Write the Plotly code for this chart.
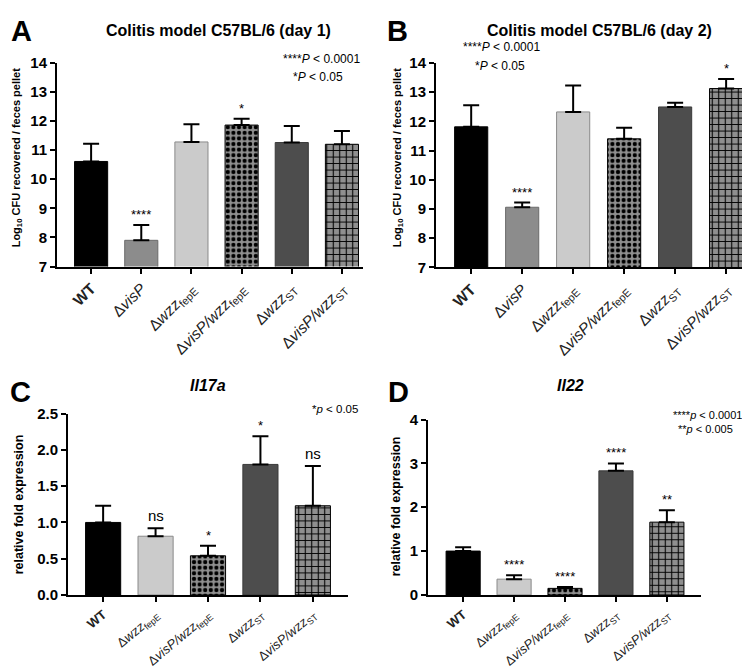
import plotly.graph_objects as go

# ---------------- data ----------------
labels_ab = ["<b>WT</b>", "Δ<i>visP</i>", "Δ<i>wzz</i><sub>fepE</sub>",
             "Δ<i>visP/wzz</i><sub>fepE</sub>", "Δ<i>wzz</i><sub>ST</sub>",
             "Δ<i>visP/wzz</i><sub>ST</sub>"]
labels_cd = ["<b>WT</b>", "Δ<i>wzz</i><sub>fepE</sub>",
             "Δ<i>visP/wzz</i><sub>fepE</sub>", "Δ<i>wzz</i><sub>ST</sub>",
             "Δ<i>visP/wzz</i><sub>ST</sub>"]

day1_mean = [10.61, 7.90, 11.28, 11.86, 11.26, 11.20]
day1_sem = [0.61, 0.53, 0.61, 0.22, 0.57, 0.46]
day1_sig = ["", "****", "", "*", "", ""]

day2_mean = [11.81, 9.06, 12.32, 11.40, 12.49, 13.12]
day2_sem = [0.74, 0.16, 0.90, 0.38, 0.14, 0.33]
day2_sig = ["", "****", "", "", "", "*"]

il17a_mean = [1.00, 0.81, 0.54, 1.80, 1.23]
il17a_sem = [0.23, 0.11, 0.14, 0.39, 0.55]
il17a_sig = ["", "ns", "*", "*", "ns"]

il22_mean = [1.00, 0.36, 0.15, 2.83, 1.66]
il22_sem = [0.09, 0.09, 0.03, 0.17, 0.27]
il22_sig = ["", "****", "****", "****", "**"]

# ---------------- styles ----------------
FONT = "Liberation Sans, Arial, sans-serif"
W, H = 750, 670

sty_ab = dict(
    color=["#000000", "#8c8c8c", "#cbcbcb", "#8f8f8f", "#4d4d4d", "#8f8f8f"],
    line=["#000000", "#6a6a6a", "#8a8a8a", "#000000", "#3a3a3a", "#000000"],
    shape=["", "", "", ".", "", "+"],
    size=[6, 6, 6, 5.6, 6, 6.5],
    solidity=[0.5, 0.5, 0.5, 0.45, 0.5, 0.3],
)
sty_cd = {k: [v[0]] + v[2:] for k, v in sty_ab.items()}


def px_x(p):
    return p / W


def px_y(p):
    return 1 - p / H


fig = go.Figure()

panels = [
    ("1", labels_ab, day1_mean, day1_sem, day1_sig, sty_ab, (49, 355), (256, 47), [7, 14], [-0.68, 5.42], 0.66, 1, None, 15.5, -45),
    ("2", labels_ab, day2_mean, day2_sem, day2_sig, sty_ab, (428, 738), (257, 47), [7, 14], [-0.69, 5.39], 0.65, 1, None, 15.5, -45),
    ("3", labels_cd, il17a_mean, il17a_sem, il17a_sig, sty_cd, (60, 340), (593, 407), [0, 2.5], [-0.67, 4.67], 0.67, 0.5, ".1f", 13, -40),
    ("4", labels_cd, il22_mean, il22_sem, il22_sig, sty_cd, (420, 693), (593, 413), [0, 4], [-0.69, 4.67], 0.67, 1, None, 13, -40),
]

annotations = []
for name, labs, mean, sem, sig, sty, xd, yd, yr, xr, bw, dt, tf, tfs, tang in panels:
    xa = "x" if name == "1" else "x" + name
    ya = "y" if name == "1" else "y" + name
    n = len(mean)
    xs = list(range(n))
    for i in range(n):
        marker = dict(color=sty["color"][i],
                      line=dict(color=sty["line"][i], width=1))
        if sty["shape"][i]:
            marker["pattern"] = dict(shape=sty["shape"][i], size=sty["size"][i],
                                     solidity=sty["solidity"][i],
                                     fgcolor="#000000", bgcolor=sty["color"][i],
                                     fgopacity=1, fillmode="replace")
        fig.add_trace(go.Bar(
            x=[xs[i]], y=[mean[i]], width=bw, xaxis=xa, yaxis=ya,
            marker=marker,
            error_y=dict(type="data", array=[sem[i]], arrayminus=[0],
                         symmetric=False, color="black", thickness=2, width=8),
            showlegend=False, hoverinfo="skip",
        ))
    axx = dict(domain=[px_x(xd[0]), px_x(xd[1])], anchor=ya, range=xr,
               tickvals=xs, ticktext=labs, tickangle=tang,
               showline=True, linecolor="black", linewidth=2,
               ticks="outside", ticklen=5, tickwidth=2, tickcolor="black",
               showgrid=False, zeroline=False,
               tickfont=dict(family=FONT, size=tfs, color="#222"))
    axy = dict(domain=[px_y(yd[0]), px_y(yd[1])], anchor=xa, range=yr,
               dtick=dt, tick0=0, showline=True, linecolor="black", linewidth=2,
               ticks="outside", ticklen=5, tickwidth=2, tickcolor="black",
               showgrid=False, zeroline=False,
               tickfont=dict(family=FONT, size=15, color="black", weight="bold"))
    if tf:
        axy["tickformat"] = tf
    key = "" if name == "1" else name
    fig.update_layout(**{"xaxis" + key: axx, "yaxis" + key: axy})
    for i in range(n):
        if sig[i]:
            annotations.append(dict(
                x=i, y=mean[i] + sem[i], xref=xa, yref=ya,
                text=sig[i], showarrow=False, yanchor="bottom",
                yshift=1 if sig[i] != "ns" else 2,
                font=dict(family=FONT, size=13 if sig[i] != "ns" else 15, color="black")))


def paper_text(text, x, y, size, bold=False, italic=False, angle=0, xanchor="center"):
    t = text
    if italic:
        t = "<i>" + t + "</i>"
    if bold:
        t = "<b>" + t + "</b>"
    annotations.append(dict(x=px_x(x), y=px_y(y), xref="paper", yref="paper",
                            text=t, showarrow=False, xanchor=xanchor,
                            yanchor="middle", textangle=angle,
                            font=dict(family=FONT, size=size, color="black")))


# panel letters
paper_text("A", 13, 14, 29, bold=True)
paper_text("B", 389, 14, 29, bold=True)
paper_text("C", 12, 385, 29, bold=True)
paper_text("D", 390, 385, 29, bold=True)

# titles
paper_text("Colitis model C57BL/6 (day 1)", 210, 14, 16, bold=True)
paper_text("Colitis model C57BL/6 (day 2)", 591, 14, 16, bold=True)
paper_text("Il17a", 200, 378, 16, bold=True, italic=True)
paper_text("Il22", 562, 378, 16, bold=True, italic=True)

# y-axis titles
paper_text("Log<sub>10</sub> CFU recovered / feces pellet", 9, 145, 11, bold=True, angle=-90)
paper_text("Log<sub>10</sub> CFU recovered / feces pellet", 390, 145, 11, bold=True, angle=-90)
paper_text("relative fold expression", 11, 500, 12.5, bold=True, angle=-90)
paper_text("relative fold expression", 388, 502, 12.5, bold=True, angle=-90)

# p-value legends
paper_text("****<i>P</i> &lt; 0.0001", 313, 43, 12)
paper_text("*<i>P</i> &lt; 0.05", 310, 62, 12)
paper_text("****<i>P</i> &lt; 0.0001", 493, 31, 12)
paper_text("*<i>P</i> &lt; 0.05", 492, 50, 12)
paper_text("*<i>p</i> &lt; 0.05", 327, 402, 11.5)
paper_text("****<i>p</i> &lt; 0.0001", 699, 408, 11)
paper_text("**<i>p</i> &lt; 0.005", 697, 423, 11)

fig.update_layout(
    width=W, height=H, margin=dict(l=0, r=0, t=0, b=0),
    paper_bgcolor="white", plot_bgcolor="white",
    annotations=annotations, showlegend=False, barmode="overlay",
    font=dict(family=FONT, color="black"),
)

fig.write_html("out.html")
